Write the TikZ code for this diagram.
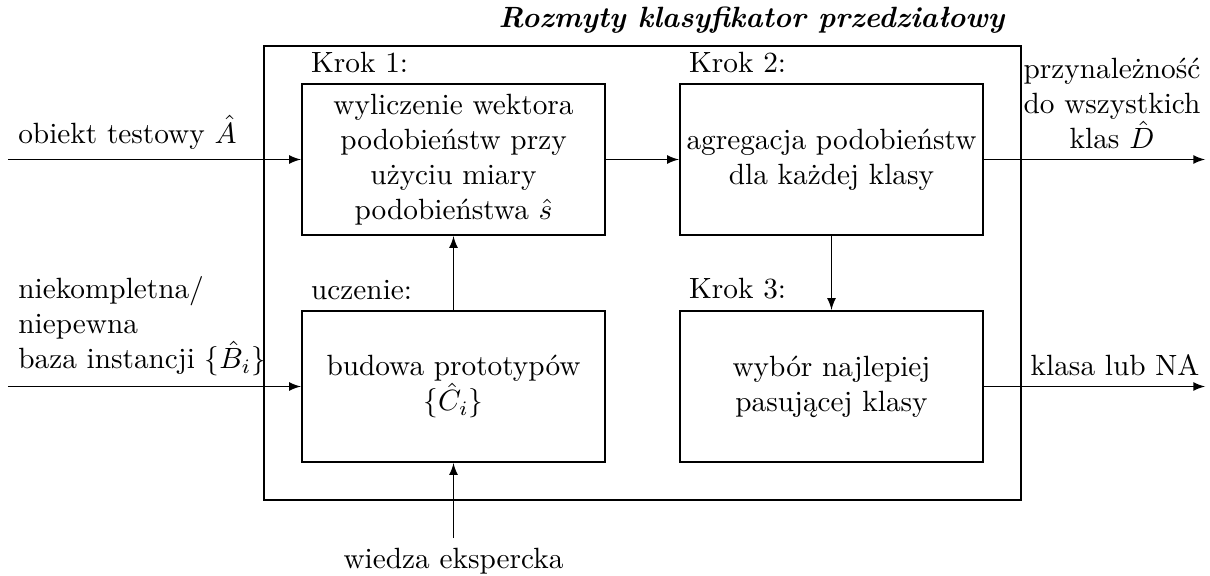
\documentclass[tikz,border=0pt]{standalone}
\usetikzlibrary{positioning}

\tikzset{
  stagebox/.style={draw, thick, minimum width=3.636cm, minimum height=1.812cm,
    align=center, inner sep=0pt},
}

\begin{document}
\begin{tikzpicture}
      \useasboundingbox (0,0) rectangle (14.52,-6.912);

      % Boxes
      \draw (3.168,-0.552) rectangle (12.252,-6.0);
      \node[stagebox] (box1) at (5.442,-1.914) {wyliczenie wektora\\podobieństw przy\\użyciu miary\\podobieństwa $\hat{s}$};
      \node[stagebox] (box2) at (9.978,-1.914) {agregacja podobieństw\\dla każdej klasy};
      \node[stagebox] (box3) at (5.442,-4.638) {budowa prototypów\\$\{\hat{C}_i\}$};
      \node[stagebox] (box4) at (9.978,-4.638) {wybór najlepiej\\pasującej klasy};

      % Labels
      \node[anchor=base] (title) at (9.018,-0.336) {\bfseries\itshape Rozmyty klasyfikator przedziałowy};
      \node[anchor=south west] (krok1) at (box1.north west) {Krok 1:};
      \node[anchor=south west] (krok2) at (box2.north west) {Krok 2:};
      \node[anchor=south west] (ucz) at (box3.north west) {uczenie:};
      \node[anchor=south west] (krok3) at (box4.north west) {Krok 3:};

      \coordinate (inA) at (0.096,-1.914);
      \coordinate (inB) at (0.096,-4.638);
      \coordinate (outD) at (14.46,-1.914);
      \coordinate (outK) at (14.46,-4.638);

      \node[above right, align=left] (labA) at (inA) {obiekt testowy $\hat{A}$};
      \node[above right, align=left] (labB) at (inB) {niekompletna/\\niepewna\\baza instancji $\{\hat{B}_i\}$};
      \node[above, align=center] (labD) at (13.344,-1.914) {przynależność\\do wszystkich\\klas $\hat{D}$};
      \node[above] (labK) at (13.38,-4.638) {klasa lub NA};
      \node[anchor=north] (expert) at (5.442,-6.456) {wiedza ekspercka};

      % Arrows
      \draw[-latex] (inA) -- (box1);
      \draw[-latex] (box1) -- (box2);
      \draw[-latex] (box2) -- (outD);
      \draw[-latex] (box3) -- (box1);
      \draw[-latex] (box2) -- (box4);
      \draw[-latex] (inB) -- (box3);
      \draw[-latex] (box4) -- (outK);
      \draw[-latex] (expert) -- (box3);
    \end{tikzpicture}
\end{document}
